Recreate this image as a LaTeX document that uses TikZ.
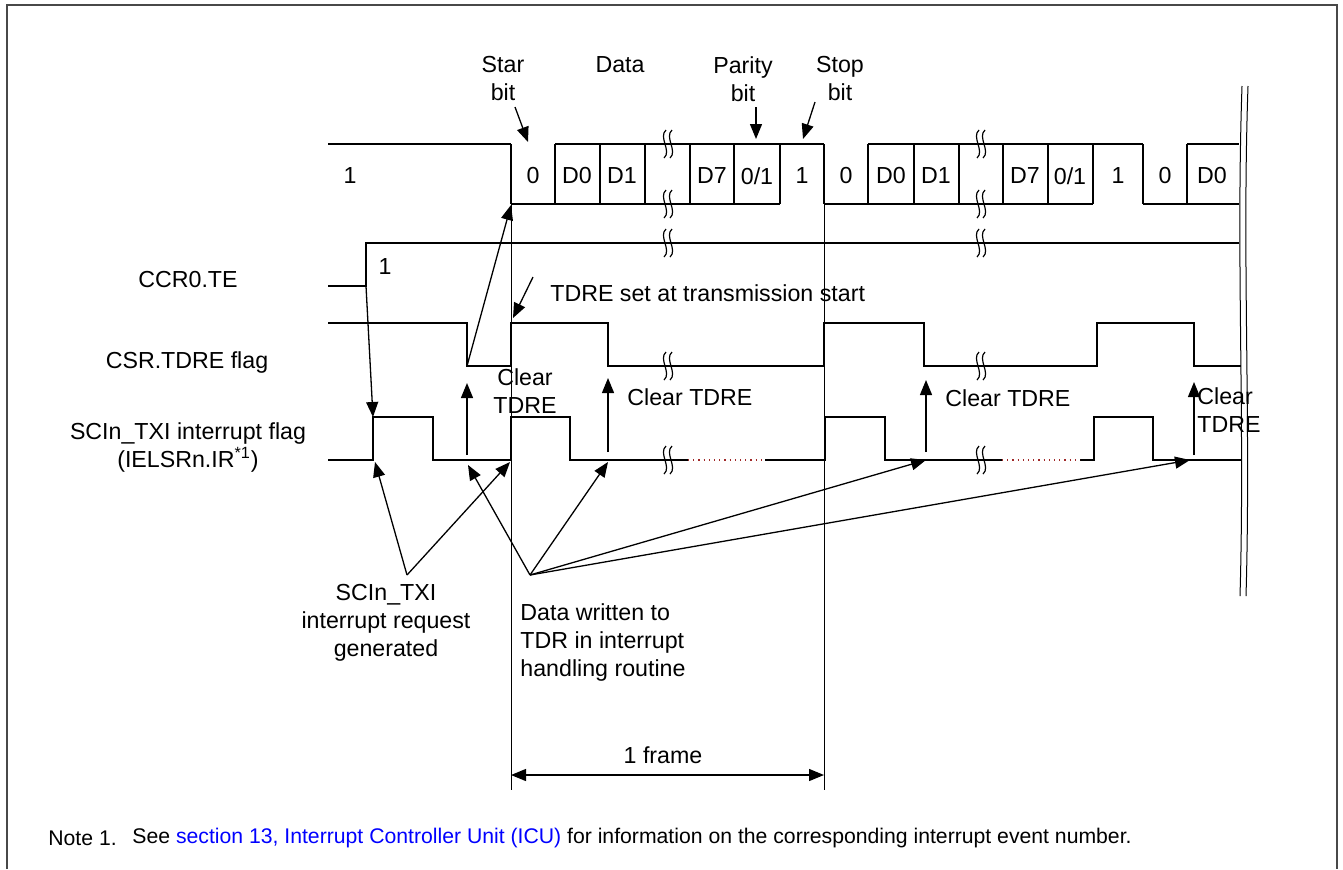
\documentclass[tikz,border=0pt]{standalone}
\usepackage{fontspec}
\setmainfont{Liberation Sans}
\usetikzlibrary{arrows.meta}
\definecolor{frameline}{RGB}{72,72,72}
\definecolor{linkblue}{RGB}{0,0,255}
\definecolor{glitch}{RGB}{160,40,40}

% break mark across a signal line
\newcommand{\wavebreak}[2]{%
  \foreach \dx in {-3,3}
    \draw[brk,shift={(#1,#2)}] ({\dx+1},-14) .. controls +(-8,7) and +(8,-7) .. ({\dx-1},14);
}

\begin{document}
\begin{tikzpicture}[x=0.5pt,y=-0.5pt,
  sig/.style={line width=0.85pt},
  cell/.style={line width=1.3pt},
  guide/.style={line width=0.4pt},
  brk/.style={line width=0.6pt},
  pointer/.style={line width=0.65pt,-{Triangle[length=7.5pt,width=6pt]}},
  lbl/.style={font=\fontsize{11.6}{14}\selectfont,inner sep=0pt,align=center},
  note/.style={font=\fontsize{10.6}{12}\selectfont,inner sep=0pt,anchor=west}]
\def\hi{144}
\def\lo{204}

\useasboundingbox (0,0) rectangle (1343,869);
\draw[frameline,line width=1pt] (7,869) -- (7,5) -- (1337,5) -- (1337,869);

% Transmit data line
\draw[sig] (328,\hi) -- (511,\hi);
\draw[sig] (555,\hi) -- (824,\hi);
\draw[sig] (511,\lo) -- (780,\lo);
\draw[sig] (868,\hi) -- (1143,\hi);
\draw[sig] (824,\lo) -- (1093,\lo);
\draw[sig] (1143,\lo) -- (1239,\lo);
\draw[sig] (1187,\hi) -- (1239,\hi);
\foreach \x in {511,555,600,645,690,734,780,824,868,914,959,1003,1048,1093,1143,1187}
  \draw[cell] (\x,\hi) -- (\x,\lo);
\foreach \x/\t [count=\i] in {350/1,533/0,577/D0,622/D1,712/D7,757/0\slash 1,802/1,
    846/0,891/D0,936/D1,1025/D7,1070/0\slash 1,1118/1,1165/0,1212/D0}
  \node[lbl] (bit\i) at (\x,176) {\t};

% field names above the frame
\node[lbl] (startName) at (503,79) {Star\\bit};
\node[lbl] (dataName) at (620,65) {Data};
\node[lbl] (parityName) at (743,79) {Parity\\bit};
\node[lbl] (stopName) at (840,79) {Stop\\bit};
\coordinate (startTail) at (515,107);
\coordinate (startHead) at (528,142);
\coordinate (parityTail) at (756,107);
\coordinate (parityHead) at (756,139);
\coordinate (stopTail) at (815,102);
\coordinate (stopHead) at (803,139);
\draw[pointer] (startTail) -- (startHead);
\draw[pointer] (parityTail) -- (parityHead);
\draw[pointer] (stopTail) -- (stopHead);

% CCR0.TE
\draw[sig] (328,286) -- (366,286) -- (366,243) -- (1239,243);
\node[lbl] (teOne) at (385,267) {1};

% CSR.TDRE
\draw[sig] (328,323) -- (467,323) -- (467,366) -- (511,366) -- (511,323)
  -- (608,323) -- (608,366) -- (824,366) -- (824,323) -- (924,323)
  -- (924,366) -- (1097,366) -- (1097,323) -- (1194,323) -- (1194,366) -- (1241,366);

% SCIn_TXI interrupt flag
\draw[sig] (328,460) -- (373,460) -- (373,417) -- (433,417) -- (433,460)
  -- (511,460) -- (511,417) -- (570,417) -- (570,460) -- (825,460)
  -- (825,417) -- (885,417) -- (885,460) -- (1094,460) -- (1094,417)
  -- (1153,417) -- (1153,460) -- (1241,460);
\draw[white,line width=1pt] (688,460) -- (765,460) (1002,460) -- (1080,460);
\draw[glitch,dotted,line width=0.6pt] (688,460) -- (765,460) (1002,460) -- (1080,460);

% breaks
\foreach \y in {\hi,\lo,243,366,460} {
  \wavebreak{668}{\y}
  \wavebreak{981}{\y}
}

% right-hand cut
\draw[line width=0.5pt] (1242,86) .. controls (1236,260) and (1245,420) .. (1240,596);
\draw[line width=0.5pt] (1248,86) .. controls (1242,260) and (1251,420) .. (1246,596);

% signal names
\node[lbl] (teName) at (188,280) {CCR0.TE};
\node[lbl] (tdreName) at (187,362) {CSR.TDRE flag};
\node[lbl] (txiName) at (188,447) {SCIn\_TXI interrupt flag\\(IELSRn.IR\textsuperscript{*1})};

% frame guides
\draw[guide] (511,\lo) -- (511,790);
\draw[guide] (824,\lo) -- (824,790);
\coordinate (frameL) at (511,775);
\coordinate (frameR) at (824,775);
\draw[line width=0.65pt,{Triangle[length=7.5pt,width=6pt]}-{Triangle[length=7.5pt,width=6pt]}] (frameL) -- (frameR);
\node[lbl] (frameLbl) at (663,755) {1 frame};

% set / clear pointers
\coordinate (teRise) at (366,286);
\coordinate (irqA) at (373,417);
\draw[pointer] (teRise) -- (irqA);
\coordinate (tdreLowA) at (467,366);
\coordinate (startFall) at (511,205);
\draw[pointer] (tdreLowA) -- (startFall);
\node[lbl,anchor=west] (setLbl) at (550,293) {TDRE set at transmission start};
\coordinate (setTail) at (533,277);
\coordinate (setHead) at (513,318);
\draw[pointer] (setTail) -- (setHead);

\coordinate (clrFootA) at (467,455);
\coordinate (clrTipA) at (467,383);
\coordinate (clrFootB) at (608,452);
\coordinate (clrTipB) at (608,378);
\coordinate (clrFootC) at (926,452);
\coordinate (clrTipC) at (926,380);
\coordinate (clrFootD) at (1194,455);
\coordinate (clrTipD) at (1194,382);
\foreach \k in {A,B,C,D}
  \draw[pointer] (clrFoot\k) -- (clrTip\k);
\node[lbl] (clrA) at (525,391) {Clear\\TDRE};
\node[lbl,anchor=west] (clrB) at (627,397) {Clear TDRE};
\node[lbl,anchor=west] (clrC) at (945,398) {Clear TDRE};
\node[lbl,anchor=west,align=left] (clrD) at (1197,410) {Clear\\TDRE};

% interrupt request / data write pointers
\coordinate (reqSrc) at (407,575);
\coordinate (reqA) at (375,462);
\coordinate (reqB) at (510,462);
\draw[pointer] (reqSrc) -- (reqA);
\draw[pointer] (reqSrc) -- (reqB);
\node[lbl] (reqLbl) at (386,623) {SCIn\_TXI\\interrupt request\\generated};

\coordinate (wrSrc) at (530,575);
\coordinate (wrA) at (468,465);
\coordinate (wrB) at (608,462);
\coordinate (wrC) at (926,460);
\coordinate (wrD) at (1190,460);
\foreach \k in {A,B,C,D}
  \draw[pointer] (wrSrc) -- (wr\k);
\node[lbl,anchor=north west,align=left] (wrLbl) at (520,603) {Data written to\\TDR in interrupt\\handling routine};

% note
\node[note] (noteNum) at (48,838) {Note 1.};
\node[note] (noteText) at (132,838) {See \textcolor{linkblue}{section 13, Interrupt Controller Unit (ICU)} for information on the corresponding interrupt event number.};
\end{tikzpicture}
\end{document}
